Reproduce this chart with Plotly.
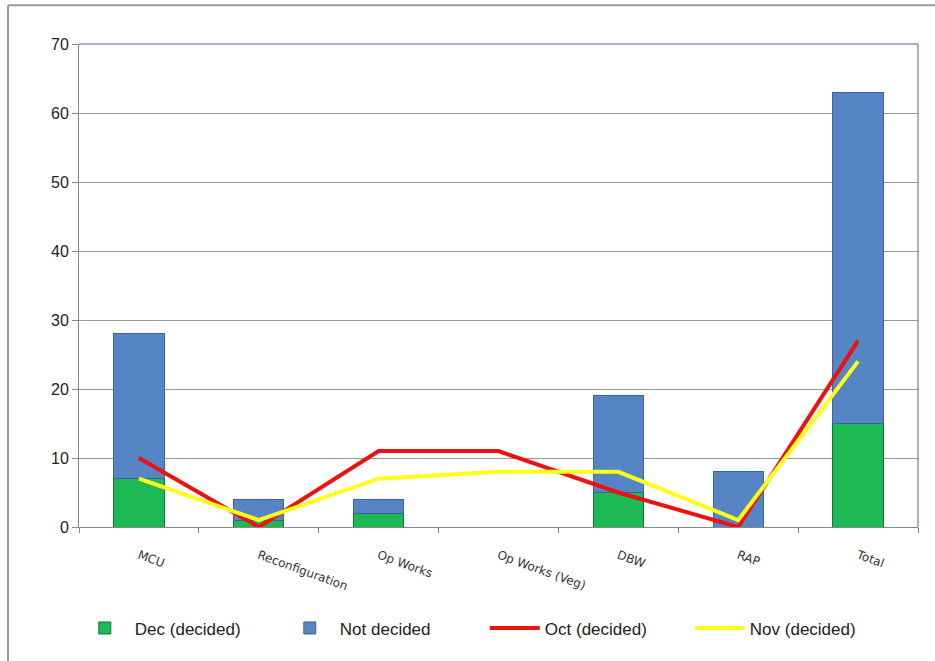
import plotly.graph_objects as go

categories = ["MCU", "Reconfiguration", "Op Works", "Op Works (Veg)", "DBW", "RAP", "Total"]
dec_decided = [7, 1, 2, 0, 5, 0, 15]
not_decided = [21, 3, 2, 0, 14, 8, 48]
oct_decided = [10, 0, 11, 11, 5, 0, 27]
nov_decided = [7, 1, 7, 8, 8, 1, 24]

fig = go.Figure()
fig.add_trace(go.Bar(x=categories, y=dec_decided, name="Dec (decided)",
                     marker=dict(color="#1DB954", line=dict(color="#0E7A3A", width=1)), width=0.42))
fig.add_trace(go.Bar(x=categories, y=not_decided, name="Not decided",
                     marker=dict(color="#5585C5", line=dict(color="#3A6496", width=1)), width=0.42))
fig.add_trace(go.Scatter(x=categories, y=oct_decided, name="Oct (decided)", mode="lines",
                         line=dict(color="#EE1111", width=4)))
fig.add_trace(go.Scatter(x=categories, y=nov_decided, name="Nov (decided)", mode="lines",
                         line=dict(color="#FFFF1A", width=4)))

fig.update_layout(
    width=935, height=661,
    barmode="stack",
    paper_bgcolor="white", plot_bgcolor="white",
    margin=dict(l=79, r=17, t=44, b=134),
    font=dict(family="Liberation Sans, Arial, sans-serif", color="#222222"),
    legend=dict(orientation="h", x=-0.005, xanchor="left", y=-0.21, yanchor="middle",
                font=dict(size=17, family="Liberation Sans Narrow, Liberation Sans, sans-serif"),
                traceorder="normal", itemwidth=50, entrywidth=140, entrywidthmode="pixels",
                bgcolor="rgba(0,0,0,0)"),
    xaxis=dict(tickangle=20, tickfont=dict(size=12, family="DejaVu Sans, sans-serif", color="#333333"),
               showline=True, linecolor="#888888", automargin=False,
               ticks="outside", tickson="boundaries", ticklen=5, tickcolor="#888888",
               ticklabelstandoff=16, showgrid=False, mirror=False),
    yaxis=dict(range=[0, 70], dtick=10, tickfont=dict(size=16), showline=True, automargin=False,
               linecolor="#888888", ticks="outside", ticklen=6, tickcolor="#888888",
               gridcolor="#999999", gridwidth=1, zeroline=False),
    shapes=[
        dict(type="line", xref="paper", yref="paper", x0=0, x1=1, y0=1, y1=1,
             line=dict(color="#7B4FA0", width=1)),
        dict(type="line", xref="paper", yref="paper", x0=1, x1=1, y0=0, y1=1,
             line=dict(color="#7B4FA0", width=1)),
        dict(type="line", xref="paper", yref="paper", x0=-0.0846, x1=1.03, y0=1.08, y1=1.08,
             line=dict(color="#999999", width=2)),
        dict(type="line", xref="paper", yref="paper", x0=-0.0846, x1=-0.0846, y0=-0.3, y1=1.08,
             line=dict(color="#999999", width=2)),
    ],
)

fig.write_html("out.html")
